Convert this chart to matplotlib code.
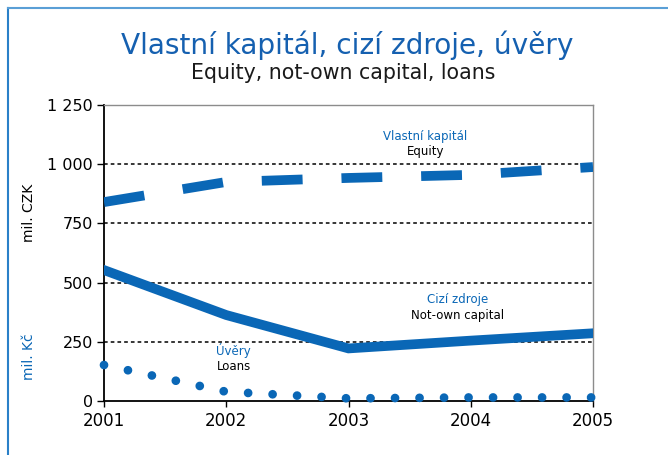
import matplotlib.pyplot as plt
from matplotlib.lines import Line2D
from matplotlib.ticker import FuncFormatter

plt.rcParams['font.family'] = ['DejaVu Sans']

# data
years = [2001, 2002, 2003, 2004, 2005]
equity = [840, 925, 942, 955, 988]        # Vlastni kapital
not_own = [553, 363, 222, 255, 286]       # Cizi zdroje
loans = [152, 39, 11, 15, 15]             # Uvery
yticks = [0, 250, 500, 750, 1000, 1250]

blue = '#0a67b6'

fig = plt.figure(figsize=(6.68, 4.55), dpi=100)
ax = fig.add_axes([104 / 668, 54 / 455, 489 / 668, 296 / 455])

# grid lines
for v in yticks[1:-1]:
    ax.axhline(v, color='black', lw=1.1, ls=(0, (2.4, 2.0)), zorder=1)

ax.plot(years, equity, color=blue, lw=7, ls=(0, (4.2, 4.0)),
        solid_capstyle='butt', zorder=3)
ax.plot(years, not_own, color=blue, lw=7, solid_joinstyle='miter', zorder=3)
ax.plot(years, loans, color=blue, lw=6.3, ls=(0, (0.001, 2.8)),
        dash_capstyle='round', clip_on=False, zorder=3)

ax.set_xlim(2001, 2005)
ax.set_ylim(0, 1250)
ax.set_xticks(years)
ax.set_yticks(yticks)
ax.yaxis.set_major_formatter(FuncFormatter(lambda v, p: f'{int(v):,}'.replace(',', ' ')))
ax.tick_params(axis='y', direction='out', length=5, width=1, labelsize=11.5, pad=3)
ax.tick_params(axis='x', direction='out', length=4, width=1, labelsize=12, pad=4)

for s in ['left', 'bottom']:
    ax.spines[s].set_color('black')
    ax.spines[s].set_linewidth(1.3)
for s in ['top', 'right']:
    ax.spines[s].set_color('#8c8c8c')
    ax.spines[s].set_linewidth(1)

# labels inside the plot
ax.text(2003.63, 1119, 'Vlastní kapitál', color=blue, fontsize=8.5, ha='center', va='center')
ax.text(2003.63, 1052, 'Equity', color='black', fontsize=8.5, ha='center', va='center')
ax.text(2003.89, 427, 'Cizí zdroje', color=blue, fontsize=8.5, ha='center', va='center')
ax.text(2003.89, 359, 'Not-own capital', color='black', fontsize=8.5, ha='center', va='center')
ax.text(2001.92, 212, 'Úvěry', color=blue, fontsize=8.5, ha='left', va='center')
ax.text(2001.92, 147, 'Loans', color='black', fontsize=8.5, ha='left', va='center')

# titles and units
fig.text(0.52, 1 - 45 / 455, 'Vlastní kapitál, cizí zdroje, úvěry', color='#1560b0',
         fontsize=20.2, ha='center', va='center')
fig.text(0.514, 1 - 73 / 455, 'Equity, not-own capital, loans', color='#1a1a1a',
         fontsize=14.8, ha='center', va='center')
fig.text(29 / 668, 1 - 213 / 455, 'mil. CZK', color='black', fontsize=10,
         rotation=90, ha='center', va='center')
fig.text(29 / 668, 1 - 357 / 455, 'mil. Kč', color=blue, fontsize=10,
         rotation=90, ha='center', va='center')

# frame lines at left and top
fig.add_artist(Line2D([8 / 668, 8 / 668], [0, 1 - 8 / 455], color='#2a80c8', lw=1.5))
fig.add_artist(Line2D([8 / 668, 1], [1 - 8 / 455, 1 - 8 / 455], color='#5a9fd6', lw=1.5))

fig.savefig('out.png', dpi=100)
